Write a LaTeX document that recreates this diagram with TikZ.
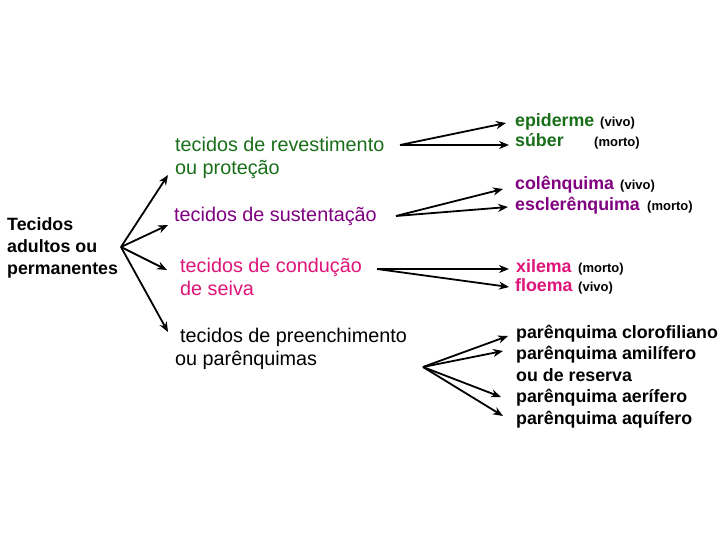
\documentclass[tikz,border=0pt]{standalone}
\usepackage{fontspec}
\setmainfont{Liberation Sans}
\usetikzlibrary{arrows.meta}
\definecolor{cgreen}{RGB}{25,110,25}
\definecolor{cpurple}{RGB}{128,0,128}
\definecolor{cpink}{RGB}{222,20,120}
\begin{document}
\begin{tikzpicture}[x=1pt,y=-1pt,
 every node/.style={inner sep=0pt, anchor=base west},
 mid/.style={font=\fontsize{19.8}{23}\selectfont},
 lbl/.style={font=\bfseries\fontsize{17.8}{22}\selectfont},
 small/.style={font=\bfseries\fontsize{13}{15}\selectfont},
 arr/.style={-{Stealth[length=10pt,width=8pt]}, line width=1.8pt}]
\useasboundingbox (0,0) rectangle (720,540);

% left label
\node[lbl] (t1) at (7,230) {Tecidos};
\node[lbl] (t2) at (7,252) {adultos ou};
\node[lbl] (t3) at (7,274) {permanentes};

% middle
\node[mid, text=cgreen] (rev1) at (175,152) {tecidos de revestimento};
\node[mid, text=cgreen] (rev2) at (175,175) {ou proteção};
\node[mid, text=cpurple] (sus) at (174,222) {tecidos de sustentação};
\node[mid, text=cpink] (con1) at (180,272) {tecidos de condução};
\node[mid, text=cpink] (con2) at (180,295) {de seiva};
\node[mid] (pre1) at (180,342) {tecidos de preenchimento};
\node[mid] (pre2) at (175,365) {ou parênquimas};

% right
\node[lbl, text=cgreen] (epi) at (515,127) {epiderme};
\node[small] (epiv) at (600,127) {(vivo)};
\node[lbl, text=cgreen] (sub) at (515,147) {súber};
\node[small] (subm) at (594,147) {(morto)};
\node[lbl, text=cpurple] (col) at (515,190) {colênquima};
\node[small] (colv) at (620,190) {(vivo)};
\node[lbl, text=cpurple] (esc) at (515,211) {esclerênquima};
\node[small] (escm) at (647,211) {(morto)};
\node[lbl, text=cpink] (xil) at (516,272) {xilema};
\node[small] (xilm) at (578,272) {(morto)};
\node[lbl, text=cpink] (flo) at (515,291) {floema};
\node[small] (flov) at (578,291) {(vivo)};
\node[lbl] (p1) at (516,338) {parênquima clorofiliano};
\node[lbl] (p2) at (516,359) {parênquima amilífero};
\node[lbl] (p3) at (516,381) {ou de reserva};
\node[lbl] (p4) at (516,402) {parênquima aerífero};
\node[lbl] (p5) at (516,424) {parênquima aquífero};

% connector points
\coordinate (L) at (121,247);
\coordinate (La) at (168,175);
\coordinate (Lb) at (168,225);
\coordinate (Lc) at (167,270);
\coordinate (Ld) at (168,332);

\coordinate (R1) at (400,145);
\coordinate (R1a) at (506,123);
\coordinate (R1b) at (509,145);
\coordinate (R2) at (396,216);
\coordinate (R2a) at (503,189);
\coordinate (R2b) at (508,207);
\coordinate (R3) at (377,269);
\coordinate (R3a) at (509,269);
\coordinate (R3b) at (509,287);
\coordinate (R4) at (423,367);
\coordinate (R4a) at (508,336);
\coordinate (R4b) at (503,351);
\coordinate (R4c) at (501,397);
\coordinate (R4d) at (503,416);

\foreach \t in {La,Lb,Lc,Ld} \draw[arr] (L) -- (\t);
\foreach \t in {R1a,R1b} \draw[arr] (R1) -- (\t);
\foreach \t in {R2a,R2b} \draw[arr] (R2) -- (\t);
\foreach \t in {R3a,R3b} \draw[arr] (R3) -- (\t);
\foreach \t in {R4a,R4b,R4c,R4d} \draw[arr] (R4) -- (\t);
\end{tikzpicture}
\end{document}
